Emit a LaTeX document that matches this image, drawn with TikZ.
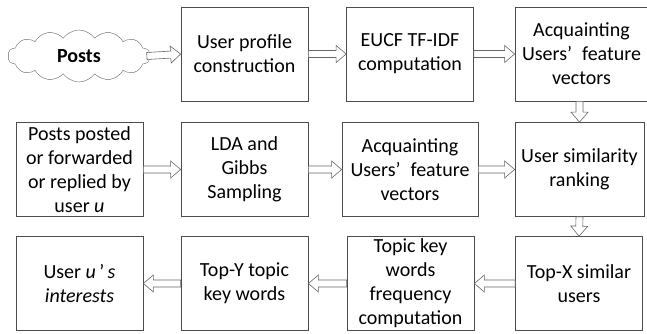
\documentclass[tikz,border=0pt]{standalone}
\usepackage{fontspec}
\setmainfont{Carlito}
\usetikzlibrary{calc, positioning, shapes, shapes.symbols}

\begin{document}
\begin{tikzpicture}[x=1pt, y=1pt, font=\fontsize{20}{24}\selectfont]

\tikzstyle{block} = [draw=black!70, rectangle, minimum width=127pt, minimum height=94pt, inner sep=1pt, align=center, line width=0.7pt];
% hollow block arrow between two border points
\tikzstyle{arrow} = [draw=black!60, fill=white, line width=0.6pt, line join=miter,
  to path={let \p1=(\tikztostart), \p2=(\tikztotarget), \n1={veclen(\x2-\x1,\y2-\y1)}, \n2={atan2(\y2-\y1,\x2-\x1)} in
    [shift={(\p1)}, rotate=\n2] (0,3.5) -- ({\n1-10},3.5) -- ({\n1-10},8.5) -- (\n1,0) -- ({\n1-10},-8.5) -- ({\n1-10},-3.5) -- (0,-3.5) -- cycle}];

\useasboundingbox (0,0) rectangle (647,333);

\node(posts) [draw=black!60, cloud, cloud puffs=14, cloud puff arc=110, aspect=2.8, minimum width=142pt, minimum height=52pt, inner sep=0pt] at (79,277) {\textbf{Posts}};

\node(profile) [block] at (244.5,279) {User profile\\construction};
\node(tfidf) [block] at (410,279) {EUCF TF-IDF\\computation};
\node(vecA) [block, minimum width=133pt] at (581.5,279) {Acquainting\\Users’\enspace feature\\vectors};

\node(userposts) [block] at (79.5,163.5) {Posts posted\\or forwarded\\or replied by\\user \textit{u}};
\node(lda) [block] at (244.5,163.5) {LDA and\\Gibbs\\Sampling};
\node(vecB) [block, minimum width=136pt] at (410,163.5) {Acquainting\\Users’\enspace feature\\vectors};
\node(rank) [block, minimum width=129pt] at (579.5,163.5) {User similarity\\ranking};

\node(interest) [block] at (79.5,49.5) {User \textit{u}\,’\,\textit{s}\\\textit{interests}};
\node(topY) [block] at (244.5,49.5) {Top-Y topic\\key words};
\node(freq) [block] at (410.5,49.5) {Topic key\\words\\frequency\\computation};
\node(topX) [block] at (579,49.5) {Top-X similar\\users};

\path [arrow] ($(posts.east)+(-3,0)$) to (profile.west);
\path [arrow] (profile.east) to (tfidf.west);
\path [arrow] (tfidf.east) to (tfidf -| vecA.west);
\path [arrow] (rank.north |- vecA.south) to (rank.north);

\path [arrow] (userposts.east) to (lda.west);
\path [arrow] (lda.east) to (vecB.west);
\path [arrow] (vecB.east) to (rank.west);
\path [arrow] (rank.south) to (topX.north);

\path [arrow] (topX.west) to (freq.east);
\path [arrow] (freq.west) to (topY.east);
\path [arrow] (topY.west) to (interest.east);

\end{tikzpicture}
\end{document}
